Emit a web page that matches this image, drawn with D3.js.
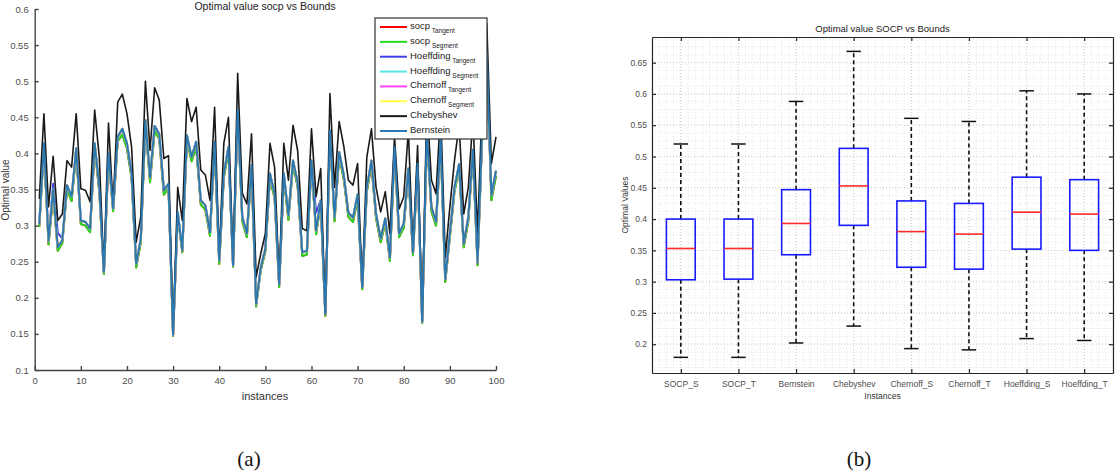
<!DOCTYPE html>
<html>
<head>
<meta charset="utf-8">
<script src="https://cdn.jsdelivr.net/npm/d3@7"></script>
<style>
  body { margin: 0; background: #fff; }
  svg, svg text { font-family: "Liberation Sans", Arial, sans-serif; }
  .tick text { fill: #4d4d4d; }
  text.caption { font-family: "Liberation Serif", "DejaVu Serif", serif; }
</style>
</head>
<body>
<svg width="1120" height="475"></svg>
<script>
// ---- data: chart (a), 100 instances ----
const instances = d3.range(1, 101);

const chebyshev = [
  0.337, 0.455, 0.326, 0.396, 0.307, 0.316, 0.390, 0.381, 0.455, 0.351,
  0.349, 0.333, 0.460, 0.395, 0.238, 0.442, 0.326, 0.471, 0.482, 0.455,
  0.409, 0.277, 0.312, 0.500, 0.404, 0.491, 0.474, 0.393, 0.397, 0.152,
  0.353, 0.307, 0.476, 0.444, 0.464, 0.377, 0.370, 0.335, 0.464, 0.256,
  0.414, 0.450, 0.247, 0.511, 0.345, 0.330, 0.427, 0.229, 0.261, 0.289,
  0.414, 0.381, 0.224, 0.414, 0.363, 0.439, 0.404, 0.296, 0.293, 0.434,
  0.340, 0.379, 0.178, 0.483, 0.353, 0.444, 0.410, 0.363, 0.356, 0.386,
  0.215, 0.395, 0.434, 0.353, 0.319, 0.347, 0.289, 0.423, 0.323, 0.340,
  0.432, 0.266, 0.411, 0.168, 0.470, 0.363, 0.344, 0.460, 0.256, 0.326,
  0.390, 0.440, 0.316, 0.353, 0.450, 0.289, 0.470, 0.580, 0.386, 0.423
];

const bernstein = [
  0.302, 0.414, 0.279, 0.350, 0.270, 0.280, 0.356, 0.340, 0.407, 0.307,
  0.305, 0.296, 0.414, 0.353, 0.236, 0.400, 0.324, 0.423, 0.434, 0.414,
  0.372, 0.247, 0.282, 0.446, 0.367, 0.438, 0.427, 0.349, 0.358, 0.149,
  0.319, 0.266, 0.425, 0.395, 0.416, 0.335, 0.328, 0.291, 0.416, 0.252,
  0.372, 0.409, 0.245, 0.460, 0.312, 0.289, 0.384, 0.192, 0.242, 0.268,
  0.372, 0.344, 0.219, 0.372, 0.314, 0.390, 0.360, 0.263, 0.265, 0.390,
  0.293, 0.335, 0.178, 0.432, 0.312, 0.402, 0.370, 0.318, 0.311, 0.343,
  0.215, 0.353, 0.390, 0.316, 0.282, 0.310, 0.256, 0.409, 0.289, 0.303,
  0.379, 0.263, 0.386, 0.167, 0.430, 0.326, 0.305, 0.420, 0.226, 0.289,
  0.353, 0.385, 0.275, 0.312, 0.405, 0.249, 0.430, 0.540, 0.342, 0.376
];

const socpSegment = [
  0.298, 0.408, 0.274, 0.343, 0.265, 0.276, 0.350, 0.334, 0.401, 0.302,
  0.300, 0.291, 0.408, 0.347, 0.233, 0.394, 0.320, 0.417, 0.426, 0.407,
  0.366, 0.242, 0.277, 0.440, 0.360, 0.431, 0.420, 0.343, 0.352, 0.147,
  0.314, 0.263, 0.418, 0.389, 0.409, 0.329, 0.322, 0.286, 0.409, 0.247,
  0.366, 0.403, 0.243, 0.453, 0.306, 0.284, 0.378, 0.188, 0.238, 0.264,
  0.366, 0.338, 0.215, 0.366, 0.308, 0.384, 0.354, 0.258, 0.260, 0.384,
  0.288, 0.330, 0.175, 0.425, 0.306, 0.396, 0.364, 0.312, 0.305, 0.337,
  0.212, 0.347, 0.384, 0.310, 0.277, 0.304, 0.251, 0.402, 0.284, 0.297,
  0.373, 0.259, 0.380, 0.165, 0.423, 0.320, 0.300, 0.413, 0.222, 0.284,
  0.347, 0.379, 0.270, 0.306, 0.399, 0.245, 0.423, 0.533, 0.335, 0.369
];

const hoeffdingTangent = [
  0.302, 0.414, 0.281, 0.358, 0.290, 0.282, 0.356, 0.340, 0.407, 0.307,
  0.305, 0.296, 0.414, 0.353, 0.236, 0.400, 0.324, 0.423, 0.434, 0.414,
  0.372, 0.247, 0.282, 0.446, 0.367, 0.438, 0.427, 0.349, 0.358, 0.149,
  0.319, 0.266, 0.425, 0.395, 0.416, 0.335, 0.328, 0.291, 0.416, 0.252,
  0.372, 0.409, 0.245, 0.460, 0.312, 0.289, 0.384, 0.192, 0.242, 0.268,
  0.372, 0.344, 0.219, 0.372, 0.314, 0.390, 0.360, 0.263, 0.265, 0.390,
  0.318, 0.335, 0.178, 0.432, 0.312, 0.402, 0.370, 0.318, 0.311, 0.343,
  0.215, 0.353, 0.390, 0.316, 0.282, 0.310, 0.256, 0.409, 0.289, 0.303,
  0.379, 0.263, 0.386, 0.167, 0.430, 0.326, 0.305, 0.420, 0.226, 0.289,
  0.353, 0.385, 0.275, 0.312, 0.405, 0.249, 0.430, 0.540, 0.342, 0.376
];

// the remaining bounds sit right under the socp / Bernstein curves
const socpTangent = socpSegment;
const hoeffdingSegment = bernstein;
const chernoffTangent = bernstein;
const chernoffSegment = bernstein;

const seriesNames = [
  ["socp", "Tangent"], ["socp", "Segment"], ["Hoeffding", "Tangent"], ["Hoeffding", "Segment"],
  ["Chernoff", "Tangent"], ["Chernoff", "Segment"], ["Chebyshev", ""], ["Bernstein", ""]
];
const seriesValues = [
  socpTangent, socpSegment, hoeffdingTangent, hoeffdingSegment,
  chernoffTangent, chernoffSegment, chebyshev, bernstein
];
const seriesColors = ["#ff0000", "#22dd22", "#4040e6", "#55e6e6", "#ff44ff", "#ffff44", "#1a1a1a", "#2b78b2"];

// ---- data: chart (b), box plot ----
const boxCategories = ["SOCP_S", "SOCP_T", "Bernstein", "Chebyshev", "Chernoff_S", "Chernoff_T", "Hoeffding_S", "Hoeffding_T"];
const whiskerLow  = [0.179, 0.179, 0.202, 0.229, 0.193, 0.191, 0.209, 0.206];
const quartile1   = [0.303, 0.304, 0.343, 0.390, 0.323, 0.320, 0.352, 0.350];
const medians     = [0.353, 0.353, 0.393, 0.453, 0.380, 0.376, 0.411, 0.408];
const quartile3   = [0.400, 0.400, 0.447, 0.513, 0.429, 0.425, 0.467, 0.463];
const whiskerHigh = [0.520, 0.520, 0.588, 0.668, 0.561, 0.556, 0.605, 0.600];

const svg = d3.select("svg");
const fmt = d => String(+d.toFixed(2));
const sansFont = "'Liberation Sans', Arial, sans-serif";

// ================= chart (a) =================
const xA = d3.scaleLinear().domain([0, 100]).range([34.7, 496]);
const yA = d3.scaleLinear().domain([0.1, 0.6]).range([370, 9]);

const gA = svg.append("g");

const line = d3.line()
  .x((d, i) => xA(instances[i]))
  .y(d => yA(d));

seriesValues.forEach((vals, k) => {
  gA.append("path")
    .datum(vals)
    .attr("fill", "none")
    .attr("stroke", seriesColors[k])
    .attr("stroke-width", k === 6 ? 1.6 : 2)
    .attr("stroke-linejoin", "round")
    .attr("d", line);
});

const styleA = g => {
  g.attr("font-family", sansFont);
  g.selectAll("text").attr("font-size", 9.5);
  g.selectAll("line,path").attr("stroke", "#444").attr("stroke-width", 1.4);
};

gA.append("g")
  .attr("transform", "translate(34.7,0)")
  .call(d3.axisLeft(yA).tickValues(d3.range(0.1, 0.6001, 0.05)).tickFormat(fmt).tickSize(-4).tickSizeOuter(0).tickPadding(6))
  .call(styleA);

gA.append("g")
  .attr("transform", "translate(0,370)")
  .call(d3.axisBottom(xA).tickValues(d3.range(0, 101, 10)).tickSize(-4).tickSizeOuter(0).tickPadding(7))
  .call(styleA);

gA.append("text").attr("x", 265).attr("y", 10).attr("text-anchor", "middle")
  .attr("font-size", 10.5).attr("fill", "#222").text("Optimal value socp vs Bounds");
gA.append("text").attr("x", 265).attr("y", 400).attr("text-anchor", "middle")
  .attr("font-size", 11).attr("fill", "#333").text("instances");
gA.append("text").attr("transform", "translate(9,190) rotate(-90)").attr("text-anchor", "middle")
  .attr("font-size", 10).attr("fill", "#333").text("Optimal value");

// legend
const legend = gA.append("g").attr("transform", "translate(375,18)");
legend.append("rect").attr("width", 112).attr("height", 121)
  .attr("fill", "#fff").attr("stroke", "#333").attr("stroke-width", 1.2);
const rowY = d3.scalePoint().domain(d3.range(seriesNames.length)).range([9, 113]);
seriesNames.forEach((nm, k) => {
  const y = rowY(k);
  legend.append("line").attr("x1", 5).attr("x2", 32).attr("y1", y).attr("y2", y)
    .attr("stroke", seriesColors[k]).attr("stroke-width", 2);
  const t = legend.append("text").attr("x", 35).attr("y", y + 2).attr("font-size", 9.5).attr("fill", "#222");
  t.append("tspan").text(nm[0]);
  if (nm[1]) t.append("tspan").attr("dy", 4).attr("font-size", 6.5).text(" " + nm[1]);
});

// ================= chart (b) =================
const xB = d3.scaleLinear().domain([0.5, 8.5]).range([652, 1113]);
const yB = d3.scaleLinear().domain([0.154, 0.691]).range([373, 37]);
const gB = svg.append("g");

// minor + major grid
const minorX = d3.range(0.5, 8.5001, 0.125);
const minorY = d3.range(0.1625, 0.691, 0.0125);
gB.append("g").selectAll("line").data(minorX).join("line")
  .attr("x1", d => xB(d)).attr("x2", d => xB(d)).attr("y1", 37).attr("y2", 373)
  .attr("stroke", "#d9d9d9").attr("stroke-width", 0.7).attr("stroke-dasharray", "1,2");
gB.append("g").selectAll("line").data(minorY).join("line")
  .attr("y1", d => yB(d)).attr("y2", d => yB(d)).attr("x1", 652).attr("x2", 1113)
  .attr("stroke", "#d9d9d9").attr("stroke-width", 0.7).attr("stroke-dasharray", "1,2");
gB.append("g").selectAll("line").data(d3.range(1, 9)).join("line")
  .attr("x1", d => xB(d)).attr("x2", d => xB(d)).attr("y1", 37).attr("y2", 373)
  .attr("stroke", "#c8c8c8").attr("stroke-width", 0.8).attr("stroke-dasharray", "1,2");
gB.append("g").selectAll("line").data(d3.range(0.2, 0.6501, 0.05)).join("line")
  .attr("y1", d => yB(d)).attr("y2", d => yB(d)).attr("x1", 652).attr("x2", 1113)
  .attr("stroke", "#c8c8c8").attr("stroke-width", 0.8).attr("stroke-dasharray", "1,2");

// boxes
const boxW = xB(1.25) - xB(1);
const capW = xB(1.125) - xB(1);
boxCategories.forEach((c, i) => {
  const cx = xB(i + 1);
  gB.append("line").attr("x1", cx).attr("x2", cx).attr("y1", yB(quartile3[i])).attr("y2", yB(whiskerHigh[i]))
    .attr("stroke", "#111").attr("stroke-width", 1.6).attr("stroke-dasharray", "4,3");
  gB.append("line").attr("x1", cx).attr("x2", cx).attr("y1", yB(quartile1[i])).attr("y2", yB(whiskerLow[i]))
    .attr("stroke", "#111").attr("stroke-width", 1.6).attr("stroke-dasharray", "4,3");
  [whiskerHigh[i], whiskerLow[i]].forEach(v => {
    gB.append("line").attr("x1", cx - capW).attr("x2", cx + capW).attr("y1", yB(v)).attr("y2", yB(v))
      .attr("stroke", "#111").attr("stroke-width", 1.5);
  });
  gB.append("rect").attr("x", cx - boxW).attr("width", 2 * boxW)
    .attr("y", yB(quartile3[i])).attr("height", yB(quartile1[i]) - yB(quartile3[i]))
    .attr("fill", "none").attr("stroke", "#1a1aff").attr("stroke-width", 1.6);
  gB.append("line").attr("x1", cx - boxW).attr("x2", cx + boxW).attr("y1", yB(medians[i])).attr("y2", yB(medians[i]))
    .attr("stroke", "#ff2a2a").attr("stroke-width", 1.6);
});

// axes (ticks inward on all sides)
const yTicksB = d3.range(0.2, 0.6501, 0.05);
const styleB = g => {
  g.attr("font-family", sansFont);
  g.selectAll("text").attr("font-size", 8.5);
  g.selectAll("line,path").attr("stroke", "#262626").attr("stroke-width", 1.2);
};
gB.append("g").attr("transform", "translate(652,0)")
  .call(d3.axisLeft(yB).tickValues(yTicksB).tickFormat(fmt).tickSize(-4).tickSizeOuter(0).tickPadding(5)).call(styleB);
gB.append("g").attr("transform", "translate(1113,0)")
  .call(d3.axisRight(yB).tickValues(yTicksB).tickFormat("").tickSize(-4).tickSizeOuter(0)).call(styleB);
gB.append("g").attr("transform", "translate(0,373)")
  .call(d3.axisBottom(xB).tickValues(d3.range(1, 9)).tickFormat(d => boxCategories[d - 1]).tickSize(-4).tickSizeOuter(0).tickPadding(8)).call(styleB);
gB.append("g").attr("transform", "translate(0,37)")
  .call(d3.axisTop(xB).tickValues(d3.range(1, 9)).tickFormat("").tickSize(-4).tickSizeOuter(0)).call(styleB);

gB.append("text").attr("x", 882.5).attr("y", 32).attr("text-anchor", "middle")
  .attr("font-size", 9.5).attr("fill", "#222").text("Optimal value SOCP vs Bounds");
gB.append("text").attr("x", 882.5).attr("y", 399).attr("text-anchor", "middle")
  .attr("font-size", 8.5).attr("fill", "#333").text("Instances");
gB.append("text").attr("transform", "translate(628,205) rotate(-90)").attr("text-anchor", "middle")
  .attr("font-size", 8.5).attr("fill", "#333").text("Optimal Values");

// captions
svg.append("text").attr("class", "caption").attr("x", 249).attr("y", 466).attr("text-anchor", "middle")
  .attr("font-size", 21).attr("fill", "#111").text("(a)");
svg.append("text").attr("class", "caption").attr("x", 859).attr("y", 466).attr("text-anchor", "middle")
  .attr("font-size", 21).attr("fill", "#111").text("(b)");
</script>
</body>
</html>
